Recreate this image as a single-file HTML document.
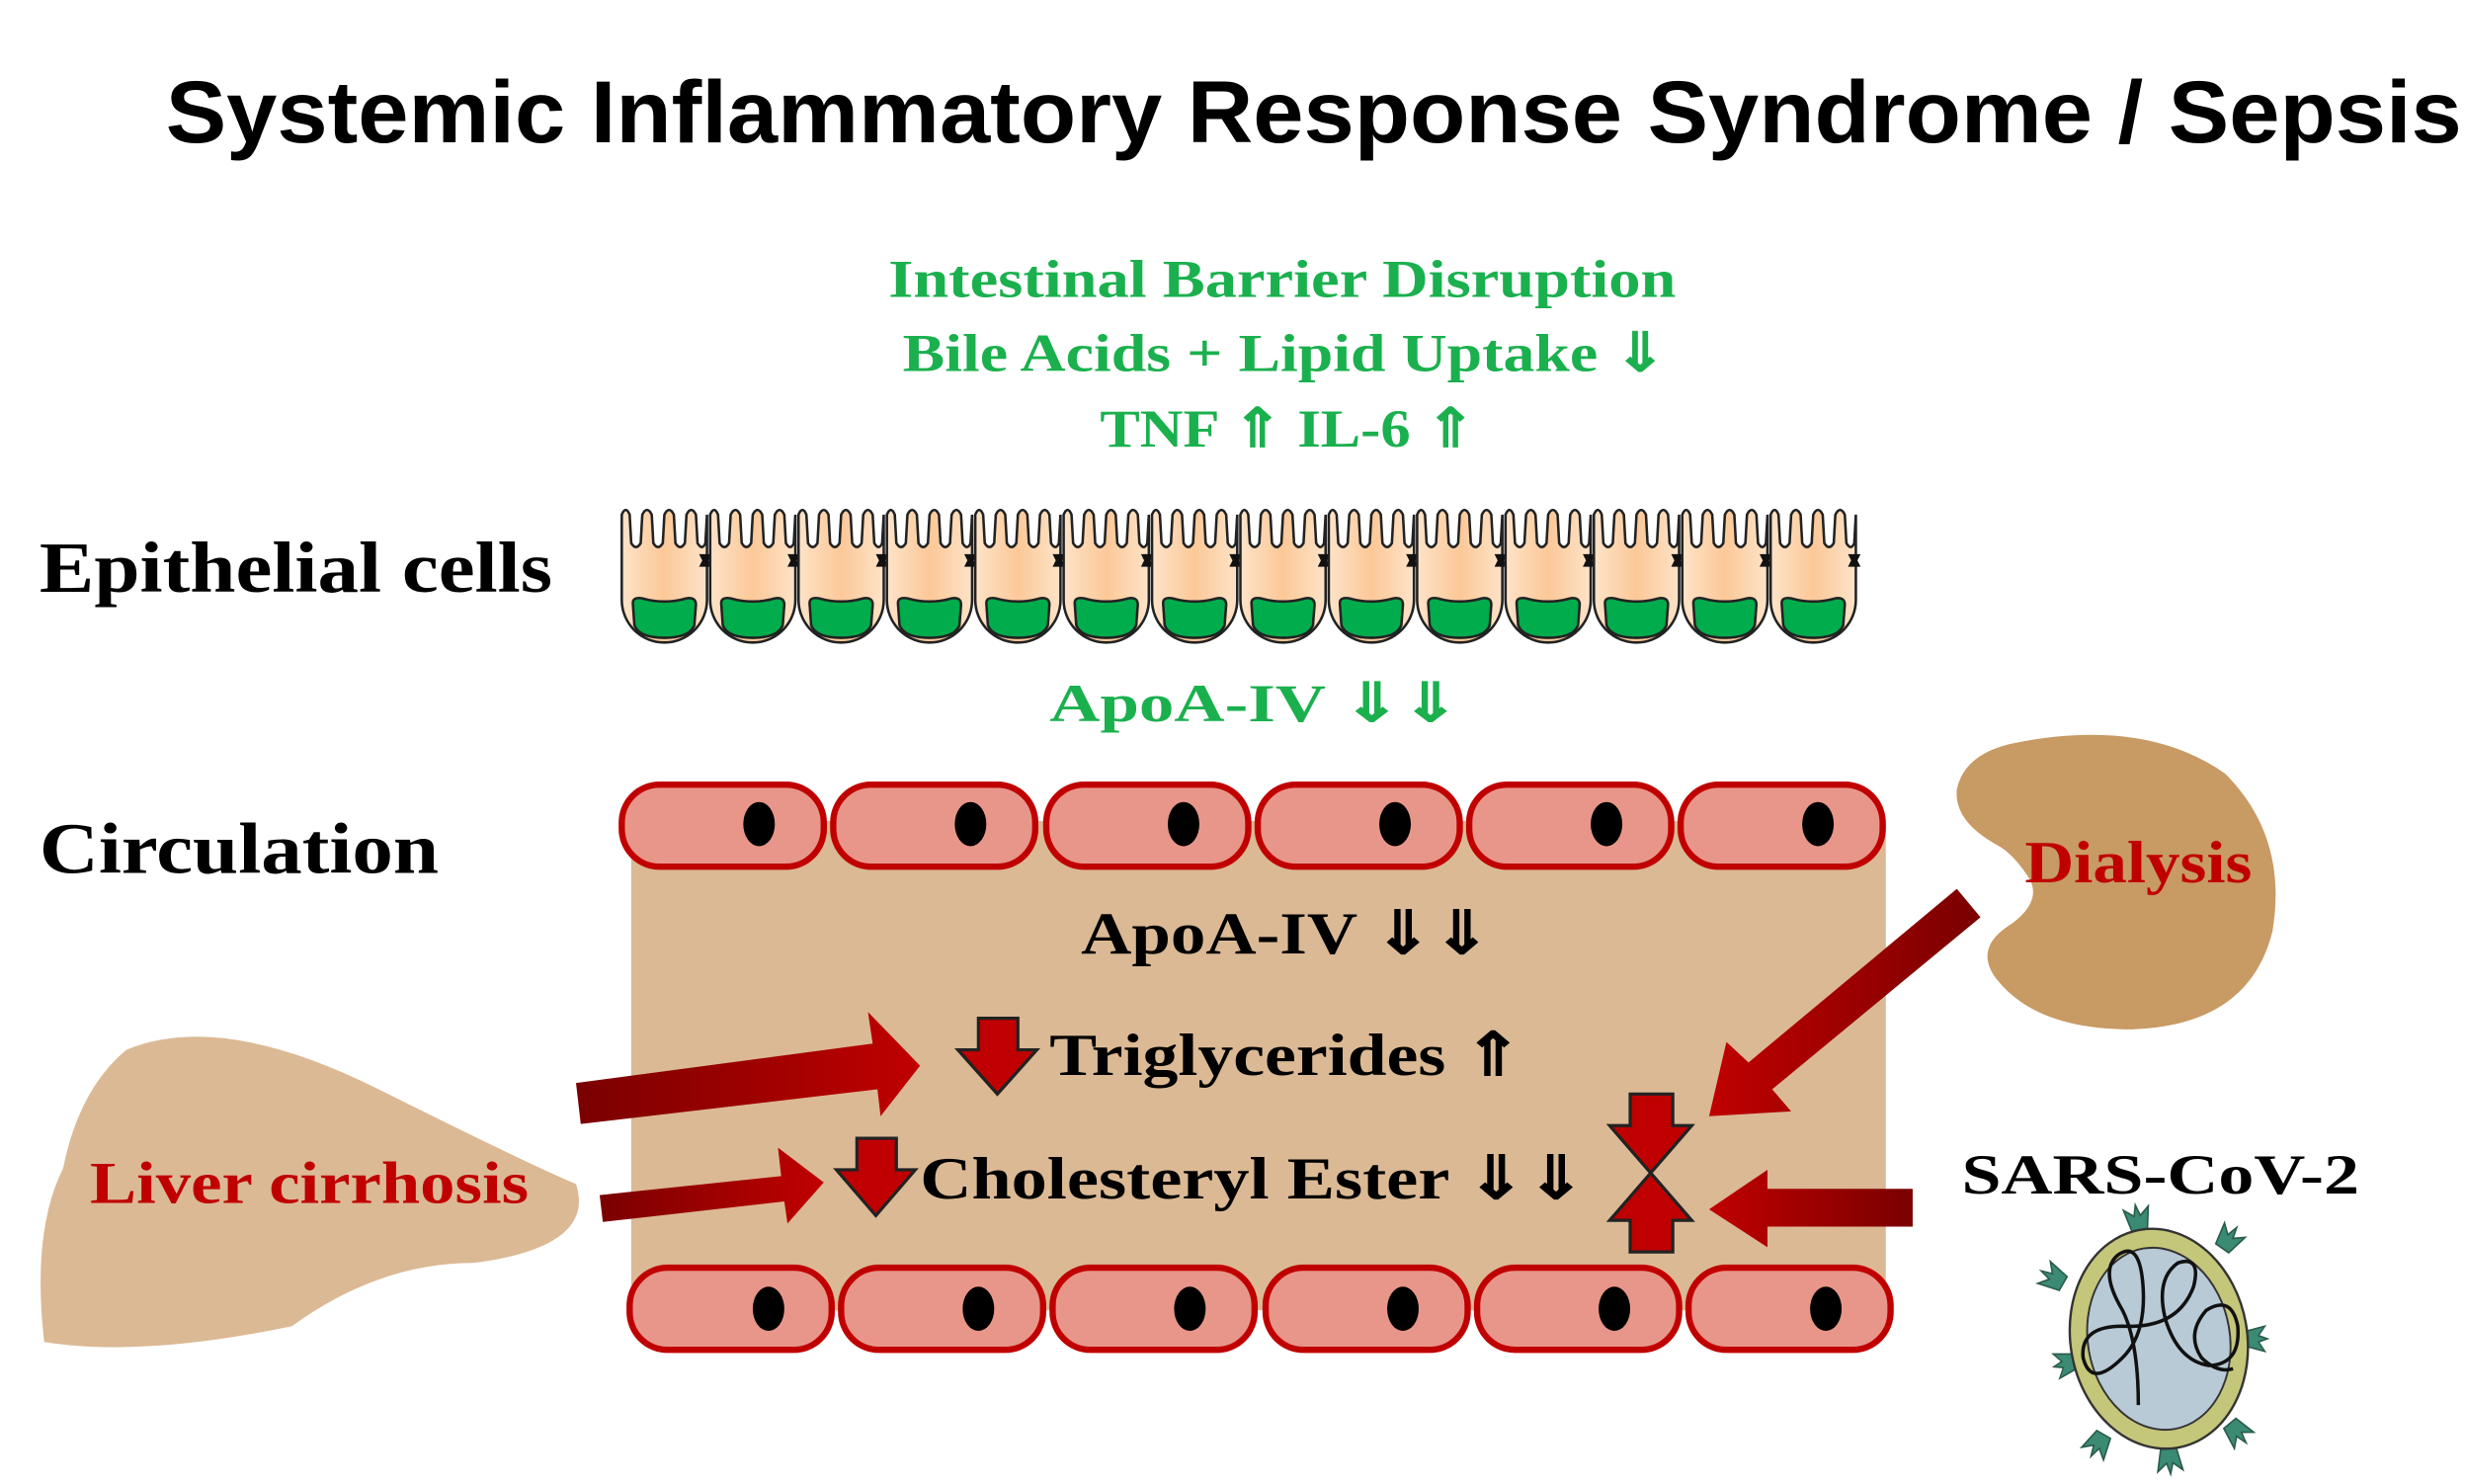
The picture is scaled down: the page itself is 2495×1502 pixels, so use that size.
<!DOCTYPE html>
<html><head><meta charset="utf-8"><style>
html,body{margin:0;padding:0;background:#fff;}
svg{display:block;}
.s{font-family:"Liberation Serif",serif;font-weight:bold;}
</style></head><body>
<svg width="2495" height="1502" viewBox="0 0 1562 940" preserveAspectRatio="none" xmlns="http://www.w3.org/2000/svg">
<defs>
<linearGradient id="cg" x1="0" x2="1"><stop offset="0" stop-color="#fde3c8"/><stop offset="0.5" stop-color="#fcc898"/><stop offset="1" stop-color="#fde3c8"/></linearGradient>
<linearGradient id="ag" x1="0" x2="1"><stop offset="0" stop-color="#7a0000"/><stop offset="1" stop-color="#c00000"/></linearGradient>
<linearGradient id="ag2" x1="1" x2="0"><stop offset="0" stop-color="#7a0000"/><stop offset="1" stop-color="#c00000"/></linearGradient>
<symbol id="cell" viewBox="0 0 56 88" overflow="visible">
<path d="M1,6 Q3.5,0 6,6 L7,24 Q10,29 13,24 L14,6 Q17,0 20,6 L21,24 Q24,29 27,24 L28,6 Q31,0 34,6 L35,24 Q38,29 41,24 L42,6 Q45,0 48,6 L49,24 Q52,29 54,24 L55,6 L55,60 A27,27 0 0 1 1,60 Z" fill="url(#cg)" stroke="#222" stroke-width="1.6"/>
<path d="M8,62 Q8,58 14,59 Q28,63 42,59 Q48,58 48,63 L47,76 Q44,84 28,84 Q12,84 9,76 Z" fill="#00ac4c" stroke="#222" stroke-width="1.6"/>
<path d="M50,31 L58,31 L56,35 L58,39 L50,39 L52,35 Z" fill="#111"/>
</symbol>
<g id="rbc"><rect x="0" y="0" width="128" height="52" rx="24" fill="#e8968a" stroke="#c00000" stroke-width="4"/></g>
<path id="spk" d="M-5,-70 L-8,-84 L-2,-79 L0,-86 L2,-79 L8,-84 L5,-70 Z"/>
</defs>

<text x="105" y="90" textLength="1455" lengthAdjust="spacingAndGlyphs" font-family="Liberation Sans, sans-serif" font-weight="bold" font-size="56" fill="#000">Systemic Inflammatory Response Syndrome / Sepsis</text>

<g class="s" fill="#1bb04e" font-size="34">
<text x="563" y="188" textLength="499" lengthAdjust="spacingAndGlyphs">Intestinal Barrier Disruption</text>
<text x="572" y="235" textLength="484" lengthAdjust="spacingAndGlyphs">Bile Acids + Lipid  Uptake ⇓</text>
<text x="697" y="283" textLength="238" lengthAdjust="spacingAndGlyphs">TNF ⇑ IL-6 ⇑</text>
<text x="665" y="457" textLength="260" lengthAdjust="spacingAndGlyphs">ApoA-IV ⇓⇓</text>
</g>

<text class="s" x="25" y="375" font-size="46" textLength="325" lengthAdjust="spacingAndGlyphs">Epithelial cells</text>
<text class="s" x="25" y="553" font-size="46" textLength="253" lengthAdjust="spacingAndGlyphs">Circulation</text>

<g>
<use href="#cell" x="393" y="320" width="56" height="88"/>
<use href="#cell" x="449" y="320" width="56" height="88"/>
<use href="#cell" x="505" y="320" width="56" height="88"/>
<use href="#cell" x="561" y="320" width="56" height="88"/>
<use href="#cell" x="617" y="320" width="56" height="88"/>
<use href="#cell" x="673" y="320" width="56" height="88"/>
<use href="#cell" x="729" y="320" width="56" height="88"/>
<use href="#cell" x="785" y="320" width="56" height="88"/>
<use href="#cell" x="841" y="320" width="56" height="88"/>
<use href="#cell" x="897" y="320" width="56" height="88"/>
<use href="#cell" x="953" y="320" width="56" height="88"/>
<use href="#cell" x="1009" y="320" width="56" height="88"/>
<use href="#cell" x="1065" y="320" width="56" height="88"/>
<use href="#cell" x="1121" y="320" width="56" height="88"/>
</g>

<rect x="400" y="520" width="795" height="310" fill="#dbb995"/>

<g>
<use href="#rbc" x="394" y="497"/><use href="#rbc" x="528" y="497"/><use href="#rbc" x="663" y="497"/><use href="#rbc" x="797" y="497"/><use href="#rbc" x="931" y="497"/><use href="#rbc" x="1065" y="497"/>
<use href="#rbc" x="399" y="803"/><use href="#rbc" x="533" y="803"/><use href="#rbc" x="667" y="803"/><use href="#rbc" x="802" y="803"/><use href="#rbc" x="936" y="803"/><use href="#rbc" x="1070" y="803"/>
</g>
<g fill="#000">
<ellipse cx="481" cy="522" rx="10" ry="14"/><ellipse cx="615" cy="522" rx="10" ry="14"/><ellipse cx="750" cy="522" rx="10" ry="14"/><ellipse cx="884" cy="522" rx="10" ry="14"/><ellipse cx="1018" cy="522" rx="10" ry="14"/><ellipse cx="1152" cy="522" rx="10" ry="14"/>
<ellipse cx="487" cy="829" rx="10" ry="14"/><ellipse cx="620" cy="829" rx="10" ry="14"/><ellipse cx="754" cy="829" rx="10" ry="14"/><ellipse cx="889" cy="829" rx="10" ry="14"/><ellipse cx="1023" cy="829" rx="10" ry="14"/><ellipse cx="1157" cy="829" rx="10" ry="14"/>
</g>

<g class="s" fill="#000" font-size="38">
<text x="685" y="604" textLength="260" lengthAdjust="spacingAndGlyphs">ApoA-IV ⇓⇓</text>
<text x="665" y="681" textLength="300" lengthAdjust="spacingAndGlyphs">Triglycerides  ⇑</text>
<text x="583" y="759" textLength="422" lengthAdjust="spacingAndGlyphs">Cholesteryl  Ester ⇓⇓</text>
</g>

<path d="M620,645 L645,645 L645,665 L657,665 L632,693 L607,665 L620,665 Z" fill="#c00000" stroke="#222" stroke-width="2"/>
<path d="M543,721 L568,721 L568,741 L580,741 L555,770 L530,741 L543,741 Z" fill="#c00000" stroke="#222" stroke-width="2"/>
<path d="M1033,693 L1060,693 L1060,713 L1072,713 L1046,743 L1020,713 L1033,713 Z" fill="#c00000" stroke="#222" stroke-width="2"/>
<path d="M1033,793 L1060,793 L1060,773 L1072,773 L1046,743 L1020,773 L1033,773 Z" fill="#c00000" stroke="#222" stroke-width="2"/>

<path d="M80,665 Q140,640 240,690 Q330,735 365,750 Q378,790 300,800 Q240,800 185,840 Q90,860 28,850 Q20,780 40,740 Q50,690 80,665 Z" fill="#dbb995"/>
<text class="s" x="57" y="762" font-size="38" fill="#c00000" textLength="278" lengthAdjust="spacingAndGlyphs">Liver  cirrhosis</text>

<path d="M365,686 L553,661 L550,641 L583,675 L558,707 L556,690 L368,712 Z" fill="url(#ag)"/>
<path d="M380,757 L495,745 L493,727 L522,749 L499,775 L497,761 L382,774 Z" fill="url(#ag)"/>

<path d="M1280,470 Q1360,455 1410,490 Q1450,530 1440,590 Q1425,650 1350,652 Q1290,652 1265,620 Q1250,600 1275,585 Q1295,570 1285,555 Q1275,540 1265,535 Q1238,520 1240,500 Q1245,476 1280,470 Z" fill="#c89a64"/>
<text class="s" x="1283" y="559" font-size="38" fill="#c00000" textLength="144" lengthAdjust="spacingAndGlyphs">Dialysis</text>
<path d="M1240,563 L1255,581 L1123,690 L1135,704 L1083,707 L1094,660 L1108,673 Z" fill="url(#ag2)"/>

<text class="s" x="1243" y="756" font-size="36" fill="#000" textLength="252" lengthAdjust="spacingAndGlyphs">SARS-CoV-2</text>
<path d="M1212,753 L1212,777 L1120,777 L1120,790 L1083,766 L1120,741 L1120,753 Z" fill="url(#ag2)"/>

<g transform="translate(1368,848) rotate(-10)">
<g fill="#3a8a74" stroke="#2a5a4a" stroke-width="1">
<use href="#spk"/>
<use href="#spk" transform="rotate(45)"/>
<use href="#spk" transform="rotate(100) scale(1,0.8)"/>
<use href="#spk" transform="rotate(150)"/>
<use href="#spk" transform="rotate(185)"/>
<use href="#spk" transform="rotate(220)"/>
<use href="#spk" transform="rotate(265) scale(1,0.8)"/>
<use href="#spk" transform="rotate(310)"/>
</g>
<ellipse cx="0" cy="0" rx="56" ry="70" fill="#c4c67a" stroke="#333" stroke-width="1.5"/>
<ellipse cx="0" cy="0" rx="45" ry="58" fill="#b8cad6" stroke="#333" stroke-width="1.2"/>
</g>
<path d="M1355,890 Q1355,850 1345,830 Q1330,805 1342,795 Q1356,785 1358,815 Q1360,845 1345,860 Q1325,880 1320,860 Q1318,840 1345,840 Q1380,842 1390,815 Q1395,795 1380,800 Q1366,810 1372,835 Q1380,862 1400,865 Q1420,864 1418,840 Q1414,820 1398,830 Q1385,845 1395,860 Q1405,870 1415,867" fill="none" stroke="#111" stroke-width="2.2"/>
</svg>
</body></html>
